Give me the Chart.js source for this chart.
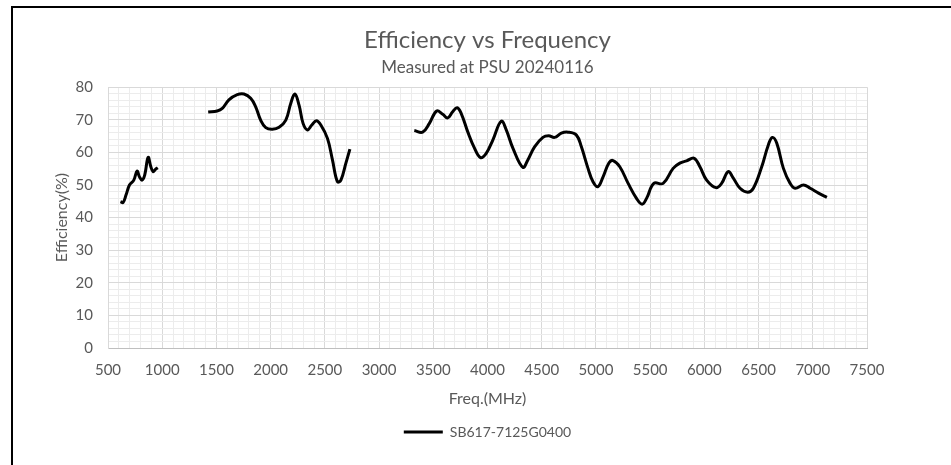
<!DOCTYPE html>
<html>
<head>
<meta charset="utf-8">
<title>Efficiency vs Frequency</title>
<script src="https://cdn.jsdelivr.net/npm/chart.js@4.4.1/dist/chart.umd.min.js"></script>
<style>
  html,body{margin:0;padding:0;background:#fff;overflow:hidden}
  #wrap{position:absolute;left:0;top:0;width:951px;height:465px}
  #frame{position:absolute;left:11px;top:6px;width:960px;height:480px;border-left:2px solid #000;border-top:2px solid #000;pointer-events:none}
</style>
</head>
<body>
<div id="wrap"><canvas id="chart"></canvas></div>
<div id="frame"></div>
<script>
// ===== data =====
const seriesName = 'SB617-7125G0400';

// band 1: ~617-960 MHz
const lowFreq = [615, 639, 666, 698, 738, 768, 790, 814, 839, 870, 895, 916, 938, 959];
const lowEff  = [44.9, 44.6, 46.9, 50.0, 51.5, 54.3, 52.5, 51.5, 53.1, 58.5, 55.6, 54.1, 54.8, 55.3];

// band 2: ~1420-2730 MHz
const midFreq = [1424, 1507, 1554, 1615, 1692, 1754, 1816, 1862, 1908, 1955, 2016, 2078, 2140, 2186,
                 2223, 2262, 2299, 2339, 2380, 2422, 2463, 2524, 2570, 2616, 2648, 2694, 2731];
const midEff  = [72.4, 72.7, 73.5, 76.1, 77.7, 77.9, 76.6, 74.0, 69.9, 67.6, 67.1, 67.7, 69.9, 75.1,
                 77.9, 74.5, 68.9, 66.9, 68.4, 69.7, 68.4, 64.3, 57.7, 51.0, 51.5, 56.7, 61.0];

// band 3: ~3300-7125 MHz
const highFreq = [3325, 3402, 3464, 3531, 3587, 3633, 3679, 3720, 3757, 3818,
                  3880, 3935, 3988, 4049, 4127, 4173, 4234, 4326, 4372, 4434,
                  4511, 4564, 4619, 4681, 4742, 4820, 4866, 4927, 4973, 5019,
                  5066, 5121, 5158, 5220, 5297, 5374, 5426, 5467, 5534, 5620,
                  5712, 5774, 5836, 5906, 5959, 6021, 6107, 6159, 6220, 6267,
                  6329, 6400, 6452, 6529, 6590, 6627, 6668, 6729, 6791, 6837,
                  6914, 6976, 7053, 7130];
const highEff  = [66.7, 66.2, 68.9, 72.7, 71.7, 70.6, 72.5, 73.7, 72.0, 66.3,
                  61.3, 58.4, 59.7, 63.8, 69.6, 66.9, 61.3, 55.4, 57.7, 61.7,
                  64.6, 65.1, 64.6, 65.9, 66.2, 65.3, 61.7, 55.1, 51.0, 49.5,
                  52.5, 56.8, 57.5, 55.6, 50.5, 45.9, 44.1, 45.9, 50.5, 50.5,
                  55.1, 56.7, 57.4, 58.2, 55.6, 51.5, 49.2, 50.5, 54.1, 52.1,
                  49.0, 47.8, 49.0, 55.6, 62.3, 64.6, 62.8, 55.1, 50.5, 49.0,
                  50.0, 49.0, 47.5, 46.2];

const xMin = 500, xMax = 7500, xMajor = 500, xMinor = 100;
const yMin = 0, yMax = 80, yMajor = 10, yMinor = 2;

// ===== build points, null between bands so the line breaks =====
function band(fs, es){ return fs.map((f, i) => ({x: f, y: es[i]})); }
const gap = {x: null, y: null};
const points = [...band(lowFreq, lowEff), gap, ...band(midFreq, midEff), gap, ...band(highFreq, highEff)];

const FONT = 'Lato, "Open Sans", sans-serif';
const TXT = '#595959';
const MAJOR = '#d9d9d9', MINOR = '#ececec';

new Chart(document.getElementById('chart'), {
  type: 'line',
  data: {
    datasets: [{
      label: seriesName,
      data: points,
      borderColor: '#000',
      backgroundColor: '#000',
      borderWidth: 3,
      pointRadius: 0,
      tension: 0.4,
      spanGaps: false
    }]
  },
  options: {
    responsive: true,
    maintainAspectRatio: false,
    animation: false,
    layout: { padding: { left: 0, right: 84, top: 0, bottom: 16 } },
    plugins: {
      title: {
        display: true, fullSize: false, text: 'Efficiency vs Frequency', color: TXT,
        font: { family: FONT, size: 24, weight: 'normal' },
        padding: { top: 25.6, bottom: 0 }
      },
      subtitle: {
        display: true, fullSize: false, text: 'Measured at PSU 20240116', color: TXT,
        font: { family: FONT, size: 17, weight: 'normal' },
        padding: { top: 3.4, bottom: 9 }
      },
      legend: {
        position: 'bottom', fullSize: false,
        labels: {
          color: TXT, font: { family: FONT, size: 14 },
          usePointStyle: true, pointStyle: 'line', pointStyleWidth: 39,
          padding: 11
        }
      },
      tooltip: { enabled: false }
    },
    scales: {
      x: {
        type: 'linear', min: xMin, max: xMax,
        afterFit(scale){ scale.height = 66; },
        ticks: {
          stepSize: xMinor, autoSkip: false, maxRotation: 0, padding: 13,
          color: TXT, font: { family: FONT, size: 15 },
          callback: v => (v % xMajor === 0 ? v : '')
        },
        grid: {
          drawTicks: false,
          color: c => (c.tick && c.tick.value % xMajor === 0 ? MAJOR : MINOR)
        },
        border: { color: '#bfbfbf' },
        title: {
          display: true, text: 'Freq.(MHz)', color: TXT,
          font: { family: FONT, size: 16 }, padding: { top: 0, bottom: 6 }
        }
      },
      y: {
        min: yMin, max: yMax,
        afterFit(scale){ scale.width = 108; },
        ticks: {
          stepSize: yMinor, autoSkip: false, padding: 15,
          color: TXT, font: { family: FONT, size: 15 },
          callback: v => (v % yMajor === 0 ? v : '')
        },
        grid: {
          drawTicks: false,
          color: c => (c.tick && c.tick.value % yMajor === 0 ? MAJOR : MINOR)
        },
        border: { color: MAJOR },
        title: {
          display: true, text: 'Efficiency(%)', color: TXT,
          font: { family: FONT, size: 16 }, padding: { top: 52, bottom: 0 }
        }
      }
    }
  }
});
</script>
</body>
</html>
